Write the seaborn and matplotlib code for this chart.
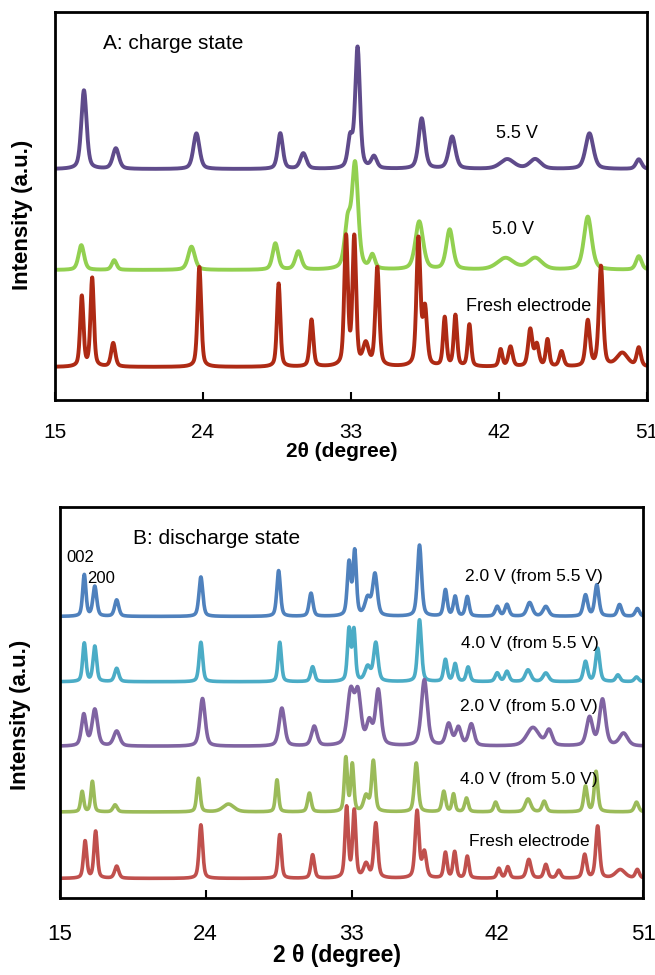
import numpy as np
import pandas as pd
import matplotlib
matplotlib.use("Agg")
import matplotlib.pyplot as plt
import seaborn as sns

# ---------------- data ----------------
# x axis ticks
X_TICKS = [15, 24, 33, 42, 51]

# Panel A: baseline level and peaks (2theta, apex intensity, half width)
A_NAMES = ["5.5 V", "5.0 V", "Fresh electrode"]
A_BASE = [59.5, 33.5, 8.5]
A_55V = [(16.76, 79.8, .19), (18.7, 64.8, .22), (23.6, 68.7, .22), (28.7, 68.7, .18),
         (30.1, 63.5, .22), (32.95, 67.0, .17), (33.4, 90.6, .17), (34.4, 62.5, .2),
         (37.3, 72.5, .22), (39.15, 67.8, .24), (42.5, 62.0, .5), (44.2, 62.0, .4),
         (47.5, 68.7, .28), (50.5, 62.0, .2)]
A_50V = [(16.6, 39.9, .2), (18.6, 36.0, .17), (23.3, 39.5, .24), (28.4, 40.3, .2),
         (29.8, 38.2, .22), (32.8, 45.0, .22), (33.25, 60.1, .22), (34.3, 37.0, .18),
         (37.15, 45.9, .28), (39.0, 43.8, .24), (42.4, 36.5, .6), (44.2, 36.5, .5),
         (47.4, 47.2, .28), (50.5, 37.0, .2)]
A_FRESH = [(16.63, 26.6, .12), (17.26, 31.3, .12), (18.54, 14.6, .15), (23.78, 34.3, .13),
           (28.6, 30.0, .12), (30.6, 20.6, .13), (32.7, 41.6, .13), (33.2, 41.4, .13),
           (33.9, 14.0, .2), (34.6, 33.9, .14), (37.1, 41.2, .14), (37.5, 23.0, .15),
           (38.7, 21.0, .12), (39.35, 21.6, .12), (40.2, 19.3, .12), (42.1, 12.9, .12),
           (42.7, 13.6, .15), (43.9, 18.0, .15), (44.3, 14.0, .15), (44.95, 15.4, .12),
           (45.8, 12.4, .15), (47.4, 20.2, .15), (48.2, 34.3, .15), (49.5, 12.0, .4),
           (50.5, 13.3, .15)]
A_COLORS = ["#5F4B8B", "#92D050", "#AE2A14"]
A_LABEL_POS = [(41.8, 68.7), (41.6, 43.9), (40.0, 24.2)]

# Panel B
B_NAMES = ["2.0 V (from 5.5 V)", "4.0 V (from 5.5 V)", "2.0 V (from 5.0 V)",
           "4.0 V (from 5.0 V)", "Fresh electrode"]
B_BASE = [72.0, 55.3, 38.8, 22.0, 5.0]
B_2V_55 = [(16.5, 82.6, .12), (17.15, 79.6, .14), (18.5, 76.2, .15), (23.7, 82.1, .14),
           (28.5, 83.7, .13), (30.5, 77.9, .14), (32.85, 85.5, .13), (33.2, 88.3, .12),
           (34.0, 76.5, .2), (34.45, 82.6, .17), (37.2, 90.2, .15), (38.8, 78.7, .13),
           (39.4, 77.0, .13), (40.15, 77.0, .13), (42.0, 74.5, .15), (42.6, 75.0, .15),
           (44.0, 75.5, .2), (45.0, 74.5, .2), (47.45, 77.4, .16), (48.15, 80.0, .15),
           (49.55, 75.0, .15), (50.65, 74.0, .15)]
B_4V_55 = [(16.5, 65.1, .12), (17.15, 64.3, .13), (18.5, 58.7, .15), (23.7, 65.4, .13),
           (28.57, 65.4, .12), (30.6, 59.1, .14), (32.85, 68.5, .12), (33.15, 68.1, .11),
           (34.0, 59.0, .2), (34.5, 65.1, .16), (37.2, 71.1, .14), (38.8, 60.9, .13),
           (39.4, 59.8, .13), (40.2, 59.0, .13), (42.0, 57.5, .15), (42.6, 57.9, .15),
           (43.9, 58.3, .2), (45.0, 57.5, .2), (47.45, 60.4, .15), (48.2, 63.8, .15),
           (49.45, 57.0, .15), (50.6, 56.5, .15)]
B_2V_50 = [(16.47, 46.8, .17), (17.15, 48.1, .2), (18.5, 42.6, .22), (23.8, 51.0, .19),
           (28.7, 48.5, .2), (30.7, 43.8, .2), (32.95, 52.3, .24), (33.4, 51.5, .22),
           (34.1, 44.5, .2), (34.65, 52.8, .2), (37.5, 55.7, .22), (39.0, 44.3, .2),
           (39.6, 43.4, .2), (40.4, 44.3, .2), (44.2, 43.5, .45), (45.2, 42.7, .22),
           (47.7, 46.0, .22), (48.5, 50.6, .22), (49.8, 42.0, .3)]
B_4V_50 = [(16.37, 27.2, .11), (17.0, 29.8, .11), (18.4, 23.8, .15), (23.55, 30.6, .12),
           (25.4, 24.0, .4), (28.4, 30.2, .11), (30.4, 26.8, .13), (32.65, 35.7, .11),
           (33.05, 34.0, .11), (33.9, 26.0, .18), (34.35, 34.9, .13), (37.0, 34.5, .14),
           (38.7, 27.2, .13), (39.3, 26.5, .11), (40.1, 25.5, .13), (41.9, 24.5, .13),
           (43.9, 25.3, .2), (44.9, 24.7, .15), (47.45, 28.5, .13), (48.1, 32.3, .13),
           (50.6, 24.5, .15)]
B_FRESH = [(16.55, 14.5, .12), (17.2, 17.0, .12), (18.5, 8.1, .15), (23.7, 18.7, .13),
           (28.57, 16.2, .12), (30.6, 11.0, .13), (32.7, 23.0, .12), (33.17, 22.1, .12),
           (33.9, 8.5, .18), (34.5, 19.0, .14), (37.05, 22.1, .14), (37.5, 11.5, .15),
           (38.8, 11.5, .12), (39.37, 11.7, .12), (40.15, 10.6, .12), (42.1, 7.5, .13),
           (42.65, 7.9, .13), (43.95, 9.8, .16), (45.0, 8.5, .14), (45.8, 7.0, .14),
           (47.4, 11.0, .14), (48.2, 18.3, .14), (49.6, 7.2, .35), (50.65, 7.2, .14)]
B_COLORS = ["#4F81BD", "#4BACC6", "#8064A2", "#9BBB59", "#C0504D"]
B_LABEL_POS = [(40.0, 82.1), (39.76, 65.1), (39.7, 49.1), (39.7, 30.2), (40.25, 14.5)]
B_HKL = [("002", 15.4, 87.0), ("200", 16.7, 81.7)]

# ---------------- helpers ----------------
GRID = np.linspace(15, 51, 2401)


def pattern(base, peaks):
    y = np.full_like(GRID, base)
    for c, apex, w in peaks:
        h = apex - base
        lor = 1.0 / (1.0 + ((GRID - c) / w) ** 2)
        gau = np.exp(-np.log(2) * ((GRID - c) / w) ** 2)
        y += h * (0.45 * lor + 0.55 * gau)
    return y


def build(names, bases, peak_sets):
    frames = []
    for n, b, p in zip(names, bases, peak_sets):
        frames.append(pd.DataFrame({"two_theta": GRID, "intensity": pattern(b, p), "sample": n}))
    return pd.concat(frames, ignore_index=True)


sns.set_style("white")
plt.rcParams["font.family"] = ["Liberation Sans", "DejaVu Sans"]
plt.rcParams["text.color"] = "black"
plt.rcParams["axes.labelcolor"] = "black"

fig = plt.figure(figsize=(6.55, 9.75), dpi=100)
axA = fig.add_axes([55 / 655, 1 - 400 / 975, 592 / 655, 388 / 975])
axB = fig.add_axes([60 / 655, 1 - 898 / 975, 583 / 655, 391 / 975])

dfA = build(A_NAMES, A_BASE, [A_55V, A_50V, A_FRESH])
dfB = build(B_NAMES, B_BASE, [B_2V_55, B_4V_55, B_2V_50, B_4V_50, B_FRESH])

sns.lineplot(data=dfA, x="two_theta", y="intensity", hue="sample", hue_order=A_NAMES,
             palette=A_COLORS, estimator=None, legend=False, linewidth=2.8, ax=axA)
sns.lineplot(data=dfB, x="two_theta", y="intensity", hue="sample", hue_order=B_NAMES,
             palette=B_COLORS, estimator=None, legend=False, linewidth=2.6, ax=axB)

for ax, fs_tick, pad in [(axA, 15, 16.5), (axB, 16, 19)]:
    ax.set_xlim(15, 51)
    ax.set_ylim(0, 100)
    ax.set_xticks(X_TICKS)
    ax.set_xticklabels([str(t) for t in X_TICKS])
    ax.set_yticks([])
    ax.tick_params(axis="x", direction="in", length=6, width=1.5, pad=pad,
                   labelsize=fs_tick, bottom=True, colors="black")
    for s in ax.spines.values():
        s.set_visible(True)
        s.set_color("black")
        s.set_linewidth(2.0)

# axis labels
axA.set_xlabel("2θ (degree)", fontsize=15, fontweight="bold")
axA.xaxis.set_label_coords(0.485, -0.108)
axA.set_ylabel("Intensity (a.u.)", fontsize=16, fontweight="bold")
axA.yaxis.set_label_coords(-0.037, 0.477)

axB.set_xlabel("2 θ (degree)", fontsize=16.5, fontweight="bold")
axB.xaxis.set_label_coords(0.475, -0.118)
axB.set_ylabel("Intensity (a.u.)", fontsize=16, fontweight="bold")
axB.yaxis.set_label_coords(-0.05, 0.468)

# annotations
axA.text(17.9, 92, "A: charge state", fontsize=15, va="center", ha="left")
for name, (x, y) in zip(A_NAMES, A_LABEL_POS):
    axA.text(x, y, name, fontsize=13, va="center", ha="left")

axB.text(19.5, 92, "B: discharge state", fontsize=15, va="center", ha="left")
for name, (x, y) in zip(B_NAMES, B_LABEL_POS):
    axB.text(x, y, name, fontsize=12.5, va="center", ha="left")
for lab, x, y in B_HKL:
    axB.text(x, y, lab, fontsize=12, va="center", ha="left")

fig.savefig("out.png", dpi=100)
